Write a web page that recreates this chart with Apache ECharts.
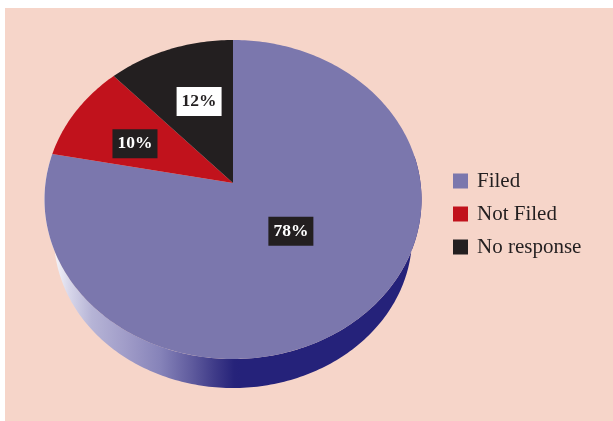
<!DOCTYPE html>
<html>
<head>
<meta charset="utf-8">
<script src="https://cdn.jsdelivr.net/npm/echarts@6/dist/echarts.min.js"></script>
<style>
  html, body { margin: 0; padding: 0; background: #ffffff; }
  #chart { width: 613px; height: 421px; }
</style>
</head>
<body>
<div id="chart"></div>
<script>
// ---- data ----
const categories = ['Filed', 'Not Filed', 'No response'];
const values = [78, 10, 12];
const valueLabels = ['78%', '10%', '12%'];

// ---- styles ----
const colors = ['#7B77AD', '#C1121C', '#231F20'];
const labelBoxes = [
  { bg: '#231F20', fg: '#ffffff' },
  { bg: '#231F20', fg: '#ffffff' },
  { bg: '#ffffff', fg: '#231F20' }
];
// label anchor in disc coords (radius fraction, angle clockwise from top)
const labelAnchors = [
  { r: 0.421, a: 134.7 },
  { r: 0.594, a: 295.4 },
  { r: 0.578, a: 340.7 }
];
const sideStops = [
  [[0, '#ffffff'], [0.1, '#d8d7ea'], [0.22, '#b6b4d6'], [0.4, '#a09cc8'],
   [0.58, '#8683b9'], [0.75, '#5e5a9d'], [0.87, '#3e3a88'], [0.97, '#26237a'], [1, '#25227a']],
  [[0, '#e88'], [1, '#700']],
  [[0, '#666'], [1, '#111']]
];

// ---- perspective geometry of the disc ----
const G = { cx: 233, cy: 183, A: 187.5, B: 157.8, e: 0.1034, yc: 199.5, k: 0.95, dy: 37 };
function proj(r, deg) {
  const t = deg * Math.PI / 180;
  const u = r * Math.sin(t), v = -r * Math.cos(t);
  const d = 1 - G.e * v;
  return [G.cx + G.A * u / d, G.cy + G.B * v / d];
}
function projBottom(deg) {
  const p = proj(1, deg);
  return [G.cx + G.k * (p[0] - G.cx), G.yc + G.k * (p[1] - G.yc) + G.dy];
}
function arc(a0, a1, fn) {
  const pts = [];
  const n = Math.max(2, Math.ceil(Math.abs(a1 - a0)));
  for (let i = 0; i <= n; i++) pts.push(fn(a0 + (a1 - a0) * i / n));
  return pts;
}

const total = values.reduce((s, v) => s + v, 0);

function makeRender(idx) {
  return function (params, api) {
    const val = api.value(0);
    let before = 0;
    for (let j = 0; j < idx; j++) before += values[j];
    const a0 = before / total * 360;
    const a1 = a0 + val / total * 360;
    const color = api.visual('color');
    const children = [];

    // side wall (front half only)
    const s0 = Math.max(a0, 80), s1 = Math.min(a1, 280);
    if (s1 > s0) {
      const top = arc(s0, s1, d => proj(1, d));
      const bot = arc(s1, s0, projBottom);
      children.push({
        type: 'polygon',
        z2: 1,
        shape: { points: top.concat(bot) },
        style: {
          fill: {
            type: 'linear', x: 50, y: 0, x2: 240, y2: 0, global: true,
            colorStops: sideStops[idx].map(s => ({ offset: s[0], color: s[1] }))
          }
        }
      });
    }

    // top face
    const face = [proj(0, 0)].concat(arc(a0, a1, d => proj(1, d)));
    children.push({
      type: 'polygon',
      z2: 5,
      shape: { points: face },
      style: { fill: color }
    });

    // value label
    const la = labelAnchors[idx];
    const lp = proj(la.r, la.a);
    children.push({
      type: 'text',
      z2: 10,
      x: lp[0], y: lp[1],
      style: {
        text: valueLabels[idx],
        fill: labelBoxes[idx].fg,
        backgroundColor: labelBoxes[idx].bg,
        font: 'bold 17.5px "Liberation Serif"',
        align: 'center',
        verticalAlign: 'middle',
        padding: [5, 5, 4, 5],
        lineHeight: 20
      }
    });
    return { type: 'group', children: children };
  };
}

const chart = echarts.init(document.getElementById('chart'), null, { renderer: 'canvas' });
chart.setOption({
  backgroundColor: '#ffffff',
  animation: false,
  graphic: [{
    type: 'rect', z: -10, silent: true,
    shape: { x: 5, y: 8, width: 608, height: 413 },
    style: { fill: '#F6D5C9' }
  }],
  legend: {
    data: categories,
    orient: 'vertical',
    left: 453,
    top: 170,
    padding: 0,
    icon: 'rect',
    itemWidth: 15,
    itemHeight: 15,
    itemGap: 11,
    textStyle: {
      fontFamily: 'Liberation Serif',
      fontSize: 21,
      lineHeight: 21,
      color: '#231F20',
      padding: [1, 0, 0, 4]
    }
  },
  series: categories.map((name, i) => ({
    type: 'custom',
    name: name,
    coordinateSystem: 'none',
    itemStyle: { color: colors[i] },
    renderItem: makeRender(i),
    data: [[values[i]]]
  }))
});
</script>
</body>
</html>
